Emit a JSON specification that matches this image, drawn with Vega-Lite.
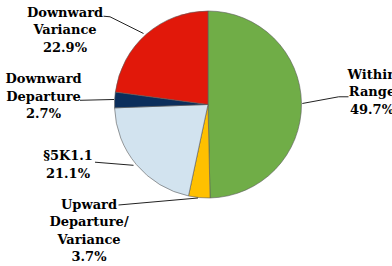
{
  "$schema": "https://vega.github.io/schema/vega-lite/v6.json",
  "autosize": {"type": "none"},
  "width": 392,
  "height": 266,
  "padding": 0,
  "background": "white",
  "config": {"view": {"stroke": null}},
  "datasets": {
    "slices": [
      {"idx": 1, "cat": "Within Range", "value": 49.7},
      {"idx": 2, "cat": "Upward Departure/Variance", "value": 3.7},
      {"idx": 3, "cat": "§5K1.1", "value": 21.1},
      {"idx": 4, "cat": "Downward Departure", "value": 2.7},
      {"idx": 5, "cat": "Downward Variance", "value": 22.9}
    ],
    "labels": [
      {"label": "Downward\nVariance\n22.9%", "x": -1.5294, "y": 0.9358},
      {"label": "Downward\nDeparture\n2.7%", "x": -1.7594, "y": 0.2267},
      {"label": "Within\nRange\n49.7%", "x": 1.754, "y": 0.2759},
      {"label": "§5K1.1\n21.1%", "x": -1.4973, "y": -0.5989},
      {"label": "Upward\nDeparture/\nVariance\n3.7%", "x": -1.2727, "y": -1.1176}
    ],
    "leaders": [
      {"id": "dv", "ord": 1, "x": -1.1176, "y": 0.9444},
      {"id": "dv", "ord": 2, "x": -1.0481, "y": 0.938},
      {"id": "dv", "ord": 3, "x": -0.6898, "y": 0.7594},
      {"id": "dd", "ord": 1, "x": -1.369, "y": 0.0449},
      {"id": "dd", "ord": 2, "x": -1.0053, "y": 0.0535},
      {"id": "wr", "ord": 1, "x": 1.0086, "y": 0.0107},
      {"id": "wr", "ord": 2, "x": 1.3979, "y": 0.0824},
      {"id": "wr", "ord": 3, "x": 1.5027, "y": 0.0824},
      {"id": "k5", "ord": 1, "x": -1.2086, "y": -0.6171},
      {"id": "k5", "ord": 2, "x": -0.7968, "y": -0.6503},
      {"id": "up", "ord": 1, "x": -0.9572, "y": -1.0749},
      {"id": "up", "ord": 2, "x": -0.107, "y": -1.0}
    ]
  },
  "layer": [
    {
      "data": {"name": "slices"},
      "mark": {"type": "arc", "outerRadius": 93.5, "stroke": "#5a5a5a", "strokeWidth": 0.6},
      "encoding": {
        "x": {"datum": 0, "type": "quantitative", "scale": {"domain": [-2.2246, 1.9679], "nice": false, "zero": false}, "axis": null},
        "y": {"datum": 0, "type": "quantitative", "scale": {"domain": [-1.7273, 1.1176], "nice": false, "zero": false}, "axis": null},
        "theta": {"field": "value", "type": "quantitative", "stack": true},
        "order": {"field": "idx", "type": "quantitative"},
        "color": {
          "field": "cat",
          "type": "nominal",
          "scale": {
            "domain": ["Within Range", "Upward Departure/Variance", "§5K1.1", "Downward Departure", "Downward Variance"],
            "range": ["#70AD47", "#FFC000", "#D2E3EF", "#0B2E5C", "#E1180A"]
          },
          "legend": null
        }
      }
    },
    {
      "data": {"name": "leaders"},
      "mark": {"type": "line", "stroke": "#222222", "strokeWidth": 1},
      "encoding": {
        "x": {"field": "x", "type": "quantitative", "scale": {"domain": [-2.2246, 1.9679], "nice": false, "zero": false}, "axis": null},
        "y": {"field": "y", "type": "quantitative", "scale": {"domain": [-1.7273, 1.1176], "nice": false, "zero": false}, "axis": null},
        "detail": {"field": "id", "type": "nominal"},
        "order": {"field": "ord", "type": "quantitative"}
      }
    },
    {
      "data": {"name": "labels"},
      "mark": {
        "type": "text",
        "lineBreak": "\n",
        "align": "center",
        "baseline": "alphabetic",
        "font": "DejaVu Serif",
        "fontSize": 13,
        "fontWeight": "bold",
        "lineHeight": 17.5,
        "color": "#000000"
      },
      "encoding": {
        "x": {"field": "x", "type": "quantitative", "scale": {"domain": [-2.2246, 1.9679], "nice": false, "zero": false}, "axis": null},
        "y": {"field": "y", "type": "quantitative", "scale": {"domain": [-1.7273, 1.1176], "nice": false, "zero": false}, "axis": null},
        "text": {"field": "label", "type": "nominal"}
      }
    }
  ]
}
